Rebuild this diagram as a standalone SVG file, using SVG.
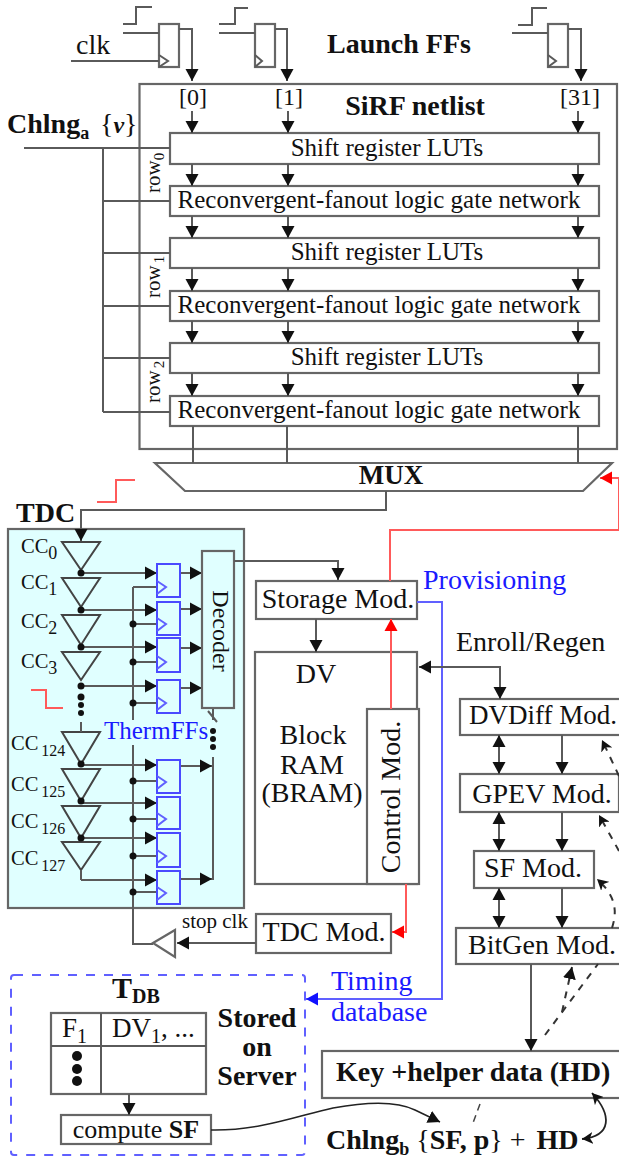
<svg xmlns="http://www.w3.org/2000/svg" width="619" height="1158" viewBox="0 0 619 1158">
<style>
text{font-family:"Liberation Serif","Times New Roman",serif;fill:#111}
.t{font-size:28px}.r{font-size:25px}.b{font-weight:bold}.m{text-anchor:middle}
.bluet{fill:#1a1aff}
.ln{fill:none;stroke:#5a5a5a;stroke-width:2}
.box{fill:#fff;stroke:#666;stroke-width:2.2}
.cy{fill:#e0ffff;stroke:#666;stroke-width:2.2}
.tri{fill:#e0ffff;stroke:#444;stroke-width:2}
.ff{fill:#e0ffff;stroke:#4a4aff;stroke-width:2}
.red{fill:none;stroke:#ff5a5a;stroke-width:2}
.bl{fill:none;stroke:#6060ff;stroke-width:2}
.d{fill:none;stroke:#333;stroke-width:2;stroke-dasharray:7 7}
</style>
<defs>
<marker id="a" markerUnits="userSpaceOnUse" markerWidth="14" markerHeight="14" refX="12" refY="7" orient="auto-start-reverse"><path d="M0 0.500L12 7L0 13.500Z" fill="#111"/></marker>
<marker id="ar" markerUnits="userSpaceOnUse" markerWidth="14" markerHeight="14" refX="12" refY="7" orient="auto"><path d="M0 0.500L12 7L0 13.500Z" fill="#f00"/></marker>
<marker id="ab" markerUnits="userSpaceOnUse" markerWidth="14" markerHeight="14" refX="12" refY="7" orient="auto"><path d="M0 0.500L12 7L0 13.500Z" fill="#11f"/></marker>
<marker id="as" markerUnits="userSpaceOnUse" markerWidth="13" markerHeight="12" refX="11" refY="6" orient="auto-start-reverse"><path d="M0 0L11 6L0 12L3 6Z" fill="#111"/></marker>
</defs>

<g id="tdc-box"><rect class="cy" x="8" y="529" width="236" height="379"/></g>
<g id="sirf-netlist"><rect class="box" x="139.500" y="84" width="477.500" height="365"/></g>

<g id="launch-ff-0"><rect class="box" x="159" y="24" width="20" height="43"/><path class="ln" d="M159 55L168 61L159 67"/></g>
<g id="launch-ff-1"><rect class="box" x="255" y="24" width="20" height="43"/><path class="ln" d="M255 55L262 61L255 67"/></g>
<g id="launch-ff-31"><rect class="box" x="548" y="24" width="20" height="43"/><path class="ln" d="M548 55L556 61L548 67"/></g>
<g id="labels-top">
<text class="t" x="76" y="54">clk</text>
<text class="t b" x="327" y="53">Launch FFs</text>
<text class="t b m" x="415" y="115">SiRF netlist</text>
<text style="font-size:24px" x="179" y="105">[0]</text>
<text style="font-size:24px" x="275" y="105">[1]</text>
<text style="font-size:24px" x="560" y="105">[31]</text>
<text class="t b" x="7" y="133">Chlng<tspan dy="6" font-size="18">a</tspan></text>
<text class="t" x="100" y="133">{<tspan font-style="italic" font-weight="bold" font-size="24">v</tspan>}</text>
<text style="font-size:21px" transform="translate(160 193) rotate(-90)">row<tspan dy="4" font-size="15">0</tspan></text>
<text style="font-size:21px" transform="translate(160 298) rotate(-90)">row<tspan dy="4" dx="2" font-size="15">1</tspan></text>
<text style="font-size:21px" transform="translate(160 403) rotate(-90)">row<tspan dy="4" dx="2" font-size="15">2</tspan></text>
</g>
<g id="row0-lut"><rect class="box" x="170" y="133" width="429" height="31"/><text class="r m" x="387" y="156">Shift register LUTs</text></g>
<g id="row0-net"><rect class="box" x="170" y="186" width="429" height="30"/><text class="r m" x="379" y="208">Reconvergent-fanout logic gate network</text></g>
<g id="row1-lut"><rect class="box" x="170" y="238" width="429" height="30"/><text class="r m" x="387" y="260">Shift register LUTs</text></g>
<g id="row1-net"><rect class="box" x="170" y="291" width="429" height="30"/><text class="r m" x="379" y="313">Reconvergent-fanout logic gate network</text></g>
<g id="row2-lut"><rect class="box" x="170" y="343" width="429" height="30"/><text class="r m" x="387" y="365">Shift register LUTs</text></g>
<g id="row2-net"><rect class="box" x="170" y="396" width="429" height="30"/><text class="r m" x="379" y="418">Reconvergent-fanout logic gate network</text></g>
<g id="mux"><path class="box" d="M155 463H612L583 491H185Z"/><text class="b m" style="font-size:27px" x="391" y="484">MUX</text></g>

<g id="tdc">
<text class="t b" x="16" y="522">TDC</text>
<path class="tri" d="M62 542H100L81 570ZM62 578H100L81 607ZM62 615H100L81 645ZM62 652H100L81 680Z"/>
<path class="tri" d="M62 732H100L81 764ZM62 769H100L81 801ZM62 806H100L81 838ZM62 842H100L81 870Z"/>
<path class="ln" d="M81 722V732M81 870V880"/>
<path class="ln" d="M133 587V720M133 745V944H153M133 587H157M133 624H157M133 662H157M133 703H157M133 781H157M133 819H157M133 856H157M133 892H157"/>
<g class="ln" marker-end="url(#a)">
<path d="M81 573H157"/><path d="M81 610H157"/><path d="M81 647H157"/><path d="M81 686H157"/>
<path d="M81 765H157"/><path d="M81 803H157"/><path d="M81 838H157"/><path d="M81 880H157"/>
<path d="M180 573H202"/><path d="M180 609H202"/><path d="M180 648H202"/><path d="M180 688H202"/>
<path d="M180 766H212"/><path d="M180 879H212"/>
</g>
<path class="ln" d="M213 757V880M213 708V720M208 711L217 722"/>
<g fill="#111">
<circle cx="81" cy="573" r="3.500"/><circle cx="81" cy="610" r="3.500"/><circle cx="81" cy="647" r="3.500"/><circle cx="81" cy="686" r="3.500"/><circle cx="81" cy="697" r="3.500"/><circle cx="81" cy="705" r="3"/><circle cx="81" cy="713" r="3"/>
<circle cx="81" cy="764" r="3.500"/><circle cx="81" cy="801" r="3.500"/><circle cx="81" cy="838" r="3.500"/>
<circle cx="133" cy="624" r="3.500"/><circle cx="133" cy="662" r="3.500"/><circle cx="133" cy="703" r="3.500"/><circle cx="133" cy="781" r="3.500"/><circle cx="133" cy="819" r="3.500"/><circle cx="133" cy="856" r="3.500"/><circle cx="133" cy="892" r="3.500"/>
<circle cx="213" cy="731" r="3"/><circle cx="213" cy="739" r="3"/><circle cx="213" cy="747" r="3"/>
</g>
<g id="therm-ffs">
<rect class="ff" x="157" y="564" width="23" height="33"/><rect class="ff" x="157" y="602" width="23" height="33"/><rect class="ff" x="157" y="638" width="23" height="34"/><rect class="ff" x="157" y="680" width="23" height="33"/>
<rect class="ff" x="157" y="760" width="23" height="33"/><rect class="ff" x="157" y="797" width="23" height="32"/><rect class="ff" x="157" y="833" width="23" height="34"/><rect class="ff" x="157" y="871" width="23" height="33"/>
<path class="bl" d="M157 581L166 587L157 594M157 618L166 624L157 631M157 656L166 662L157 669M157 697L166 703L157 710M157 776L166 782L157 789M157 813L166 819L157 826M157 850L166 856L157 863M157 887L166 893L157 900"/>
</g>
<g id="decoder"><rect class="cy" x="202" y="551" width="32" height="157"/><text class="m" style="font-size:24px" transform="translate(213 631) rotate(90)">Decoder</text></g>
<text class="bluet" x="104" y="739" style="font-size:25px">ThermFFs</text>
<g style="font-size:20.500px">
<text x="21" y="553">CC<tspan dy="6" font-size="18">0</tspan></text>
<text x="21" y="589">CC<tspan dy="6" font-size="18">1</tspan></text>
<text x="21" y="628">CC<tspan dy="6" font-size="18">2</tspan></text>
<text x="21" y="668">CC<tspan dy="6" font-size="18">3</tspan></text>
<text x="11" y="750">CC<tspan dy="6" dx="3" font-size="16">124</tspan></text>
<text x="11" y="791">CC<tspan dy="6" dx="3" font-size="16">125</tspan></text>
<text x="11" y="828">CC<tspan dy="6" dx="3" font-size="16">126</tspan></text>
<text x="11" y="865">CC<tspan dy="6" dx="3" font-size="16">127</tspan></text>
</g>
</g>

<g id="stop-buffer">
<path class="box" d="M153 943L175 930V957Z"/>
<text x="182" y="928" style="font-size:21px">stop clk</text>
</g>
<g id="storage-mod"><rect class="box" x="256" y="581" width="161" height="38"/><text class="t m" x="338" y="608">Storage Mod.</text></g>
<g id="bram"><rect class="box" x="255" y="652" width="162" height="232"/><text class="t m" x="316" y="683">DV</text><text class="t m" x="313" y="744">Block</text><text class="t m" x="312" y="774">RAM</text><text class="t m" x="312" y="802">(BRAM)</text></g>
<g id="control-mod"><rect class="box" x="367" y="709" width="52" height="175"/><text class="t m" transform="translate(400 797) rotate(-90)">Control Mod.</text></g>
<g id="tdc-mod"><rect class="box" x="256" y="914" width="135" height="39"/><text class="t m" x="324" y="941">TDC Mod.</text></g>
<g id="dvdiff"><rect class="box" x="460" y="699" width="170" height="36"/><text class="m" style="font-size:27px" x="543" y="724">DVDiff Mod.</text></g>
<g id="gpev"><rect class="box" x="460" y="774" width="159" height="38"/><text class="t m" x="542" y="803">GPEV Mod.</text></g>
<g id="sf"><rect class="box" x="474" y="851" width="120" height="37"/><text class="t m" x="533" y="877">SF Mod.</text></g>
<g id="bitgen"><rect class="box" x="456" y="928" width="170" height="36"/><text class="t m" x="542" y="954">BitGen Mod.</text></g>
<g id="key"><rect class="box" x="322" y="1051" width="310" height="47"/><text class="t b" x="336" y="1081">Key +helper data (HD)</text></g>
<g id="side-labels">
<text class="t bluet" x="423" y="589">Provisioning</text>
<text class="t" x="456" y="651">Enroll/Regen</text>
<text class="t bluet" x="331" y="990">Timing</text>
<text class="t bluet" x="331" y="1021">database</text>
<text class="t b" x="326" y="1149">Chlng<tspan dy="6" font-size="18">b</tspan><tspan dy="-6" font-weight="normal"> {</tspan>SF, p<tspan font-weight="normal">} + </tspan><tspan dx="4">HD</tspan></text>
</g>

<g id="tdb">
<rect x="11" y="975" width="294" height="180" rx="3" fill="none" stroke="#6060ff" stroke-width="2" stroke-dasharray="9 9"/>
<text class="b" x="112" y="998" style="font-size:30px">T<tspan dy="5" font-size="20">DB</tspan></text>
<rect class="box" x="51" y="1013" width="155" height="81"/>
<path class="ln" d="M51 1046H206M101 1013V1094"/>
<text style="font-size:27px" x="62" y="1037">F<tspan dy="6" font-size="20">1</tspan></text>
<text style="font-size:27px" x="112" y="1037">DV<tspan dy="6" font-size="20">1</tspan><tspan dy="-6">, ...</tspan></text>
<g fill="#111"><circle cx="77" cy="1056" r="5"/><circle cx="77" cy="1069" r="5"/><circle cx="77" cy="1081" r="5"/></g>
<text class="t b m" x="257" y="1027">Stored</text><text class="t b m" x="257" y="1056">on</text><text class="t b m" x="257" y="1085">Server</text>
<rect class="box" x="61" y="1115" width="150" height="29"/>
<text class="m" style="font-size:26px" x="136" y="1138">compute <tspan font-weight="bold">SF</tspan></text>
</g>

<g id="connectors">
<path class="ln" d="M24 148H170M103 148V412M103 201H170M103 253H170M103 306H170M103 358H170M103 412H170"/>
<path class="ln" d="M123 24H136V7H152M219 24H235V8H248M518 25H532V8H547"/>
<path class="ln" d="M123 33H159M219 33H255M512 33H548M71 61H159"/>
<path class="ln" marker-end="url(#a)" d="M179 29H192V81"/>
<path class="ln" marker-end="url(#a)" d="M275 29H287V81"/>
<path class="ln" marker-end="url(#a)" d="M568 29H581V81"/>
<g class="ln" marker-end="url(#a)">
<path d="M192 111V133"/><path d="M288 111V133"/><path d="M578 111V133"/>
<path d="M192 164V186"/><path d="M288 164V186"/><path d="M578 164V186"/>
<path d="M192 216V238"/><path d="M288 216V238"/><path d="M578 216V238"/>
<path d="M192 268V291"/><path d="M288 268V291"/><path d="M578 268V291"/>
<path d="M192 321V343"/><path d="M288 321V343"/><path d="M578 321V343"/>
<path d="M192 373V396"/><path d="M288 373V396"/><path d="M578 373V396"/>
</g>
<path class="ln" d="M193 426V463M287 426V463M578 426V463"/>
<path class="ln" marker-end="url(#a)" d="M386 491V510H81V541"/>
<path class="red" d="M97 502H116V480H135M31 690H46V708H63"/>
<path class="ln" marker-end="url(#a)" d="M234 561H338V580"/>
<path class="ln" marker-end="url(#a)" d="M316 619V652"/>
<path class="red" marker-end="url(#ar)" d="M391 709V619"/>
<path class="red" marker-end="url(#ar)" d="M390 581V530H619V478H600"/>
<path class="red" marker-end="url(#ar)" d="M406 884V932H392"/>
<path class="bl" marker-end="url(#ab)" d="M417 602H442V999H306"/>
<path class="ln" marker-start="url(#a)" marker-end="url(#a)" d="M419 667H500V699"/>
<g class="ln" marker-start="url(#a)" marker-end="url(#a)">
<path d="M499 735V774"/><path d="M499 812V851"/><path d="M499 888V928"/>
</g>
<g class="ln" marker-end="url(#a)">
<path d="M562 735V774"/><path d="M562 812V851"/><path d="M562 888V928"/><path d="M531 964V1051"/>
</g>
<path class="ln" marker-end="url(#a)" d="M256 943H177"/>
<path class="d" marker-end="url(#as)" d="M619 776L602 740"/>
<path class="d" marker-end="url(#as)" d="M619 851L599 815"/>
<path class="d" marker-end="url(#as)" d="M612 928C617 912 617 897 597 879"/>
<path class="d" d="M545 1035L598 964"/>
<path class="d" marker-end="url(#a)" d="M562 1012L572 967"/>
<path d="M480 1104L473 1123" fill="none" stroke="#444" stroke-width="1.500" stroke-dasharray="7 5"/>
<path class="ln" marker-end="url(#a)" d="M129 1094V1115"/>
<path d="M211 1130C260 1131 300 1115 333 1108C360 1103 395 1100 415 1110L440 1122" fill="none" stroke="#222" stroke-width="1.500" marker-end="url(#a)"/>
<path d="M592 1093C612 1115 612 1136 582 1139" fill="none" stroke="#222" stroke-width="1.800" marker-start="url(#as)" marker-end="url(#as)"/>
</g>
</svg>
